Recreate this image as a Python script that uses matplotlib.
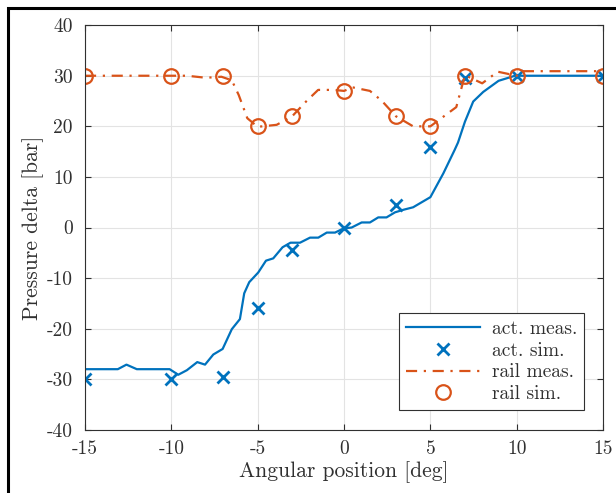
import numpy as np
import matplotlib
matplotlib.use('Agg')
import matplotlib.pyplot as plt
from matplotlib.patches import Rectangle

plt.rcParams['font.family'] = 'serif'
plt.rcParams['font.serif'] = ['cmr10']
plt.rcParams['mathtext.fontset'] = 'cm'
plt.rcParams['axes.unicode_minus'] = False
plt.rcParams['axes.formatter.use_mathtext'] = True

# actuator pressure, measured
act_x = [-15, -13.1, -12.6, -12.0, -10.1, -9.6, -9.1, -8.5, -8.05, -7.57, -7.03, -6.5, -6.03,
         -5.78, -5.49, -4.97, -4.52, -4.1, -3.56, -3.1, -2.55, -1.97, -1.49, -1.0, -0.52, -0.04,
         0.44, 1.02, 1.5, 1.98, 2.46, 2.95, 3.43, 4.0, 5.0, 5.75, 6.4, 6.6, 7.0, 7.48, 8.06,
         8.95, 9.9, 15]
act_y = [-28, -28, -27.1, -28, -28, -29.1, -28.2, -26.6, -27.1, -25.1, -24.0, -20.1, -18.1,
         -13.0, -10.8, -8.9, -6.55, -6.1, -3.9, -3.0, -3.0, -2.0, -2.0, -1.0, -1.0, -0.2,
         0, 1.0, 1.0, 2.0, 2.0, 3.0, 3.5, 4.0, 6.0, 10.7, 15.3, 16.8, 20.9, 24.9, 26.8,
         29.0, 30, 30]

# rail pressure, measured
rail_x = [-15, -10, -9.1, -8.0, -7.1, -6.5, -6.1, -5.6, -5.0, -3.9, -3.0, -2.2, -1.5, -0.6,
          0, 0.5, 1.5, 2.2, 3.0, 4.0, 5.0, 6.5, 7.0, 8.0, 8.9, 10.0, 10.3, 15]
rail_y = [30, 30, 30, 29.6, 29.8, 29.1, 26.2, 21.6, 19.9, 20.3, 22.0, 24.9, 27.2, 27.2,
          27, 27.7, 27, 25, 22, 20, 20, 23.8, 30.1, 28.5, 30.8, 30, 30.9, 30.9]

# simulation points
sim_x = [-15, -10, -7, -5, -3, 0, 3, 5, 7, 10, 15]
act_sim = [-30, -30, -29.5, -16, -4.5, 0, 4.5, 16, 29.5, 30, 30]
rail_sim = [30, 30, 30, 20, 22, 27, 22, 20, 30, 30, 30]

xticks = [-15, -10, -5, 0, 5, 10, 15]
xtick_labels = ['-15', '-10', '-5', '0', '5', '10', '15']
yticks = [-40, -30, -20, -10, 0, 10, 20, 30, 40]
ytick_labels = ['-40', '-30', '-20', '-10', '0', '10', '20', '30', '40']

blue = '#0072BD'
orange = '#D95319'
dark = '#303030'

fig = plt.figure(figsize=(6.16, 4.93), dpi=100)
ax = fig.add_axes([0.138, 0.128, 0.841, 0.821])

ax.plot(act_x, act_y, color=blue, lw=1.6, label='act. meas.')
ax.plot(sim_x, act_sim, ls='none', marker='x', ms=8, mew=2, color=blue, label='act. sim.')
ax.plot(rail_x, rail_y, color=orange, lw=1.6, dashes=(5, 3, 1, 3), label='rail meas.')
ax.plot(sim_x, rail_sim, ls='none', marker='o', ms=10.5, mew=1.6, mfc='none', color=orange,
        label='rail sim.')

ax.set_xlim(-15, 15)
ax.set_ylim(-40, 40)
ax.set_xticks(xticks)
ax.set_xticklabels(xtick_labels)
ax.set_yticks(yticks)
ax.set_yticklabels(ytick_labels)
ax.tick_params(direction='in', top=True, right=True, labelsize=14, colors=dark, length=4, width=0.8)
ax.tick_params(axis='x', pad=7)
ax.tick_params(axis='y', pad=9)
ax.grid(color='#e3e3e3', lw=0.8)
ax.set_axisbelow(True)
for s in ax.spines.values():
    s.set_color(dark)
    s.set_linewidth(0.8)

ax.set_xlabel('Angular position [deg]', fontsize=15.5, color=dark, labelpad=3)
ax.set_ylabel('Pressure delta [bar]', fontsize=15.5, color=dark, labelpad=2)

leg = ax.legend(loc='lower right', bbox_to_anchor=(0.963, 0.049), borderaxespad=0, fontsize=14,
                fancybox=False, framealpha=1, edgecolor=dark, handlelength=3.8, borderpad=0.35,
                labelspacing=0.2, handletextpad=0.6)
leg.get_frame().set_linewidth(0.8)
for t in leg.get_texts():
    t.set_color(dark)

# figure frame
fig.patches.append(Rectangle((8 / 616, -0.05), 1.1, 1 - 8 / 493 + 0.05, transform=fig.transFigure,
                             fill=False, edgecolor='black', lw=2.2))

fig.savefig('out.png', dpi=100)
